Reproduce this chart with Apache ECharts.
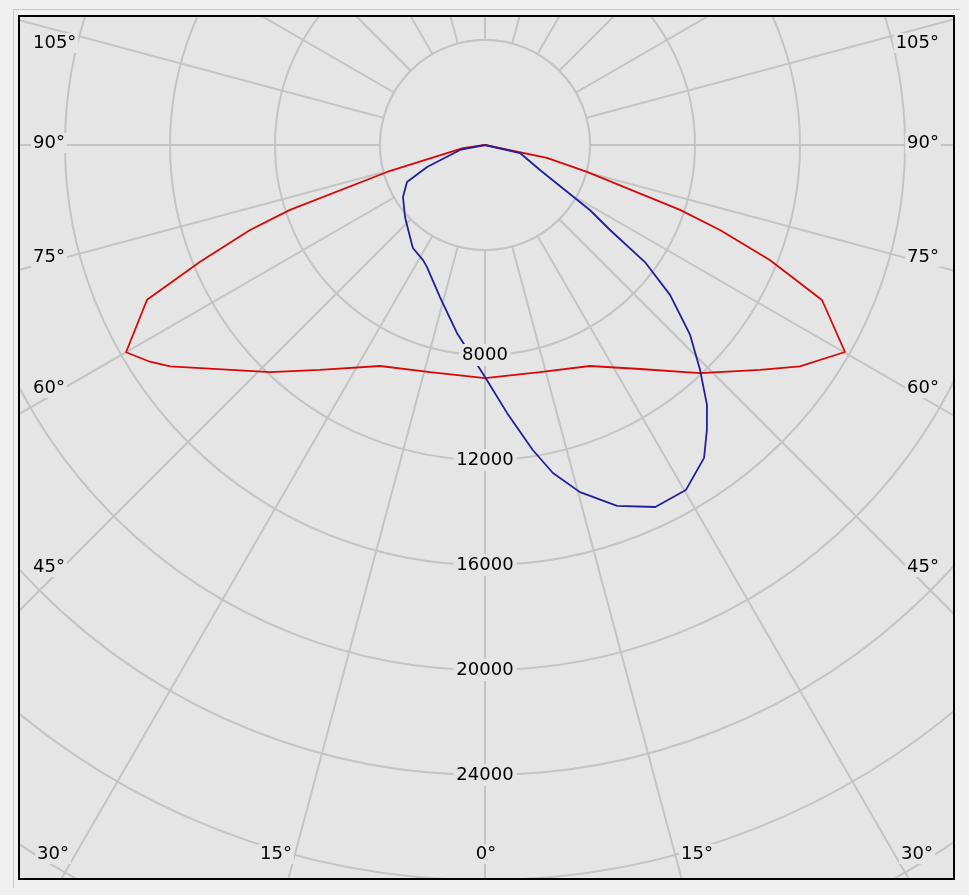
<!DOCTYPE html>
<html><head><meta charset="utf-8">
<script src="https://cdn.jsdelivr.net/npm/echarts@6/dist/echarts.min.js"></script>
<style>html,body{margin:0;padding:0;background:#f0f0f0}#c{width:969px;height:895px}</style>
</head><body><div id="c"></div>
<script>
// gamma angle (deg, negative = left half-plane) and luminous intensity (cd)
const redAngles = [-90, -82.2, -74.6, -71.6, -70.1, -67.7, -65.4, -60.0, -57.1, -54.9, -43.4, -36.3, -25.4, -13.6, 0, 13.6, 25.4, 34.7, 43.3, 50.7, 54.9, 60.1, 65.3, 68.0, 70.1, 71.6, 75.2, 78.2, 90];
const redValues = [0, 850, 3870, 7830, 9520, 11730, 14160, 15790, 15200, 14660, 11910, 10630, 9320, 8900, 8880, 8900, 9320, 10380, 11940, 13530, 14660, 15820, 14130, 11700, 9520, 7830, 4020, 2410, 0];
const blueAngles = [-90, -78.7, -69.2, -64.6, -57.6, -48.0, -39.2, -35.0, -28.3, -25.4, -16.5, -8.5, 0, 4.7, 8.9, 11.7, 15.3, 20.1, 25.2, 30.2, 35.0, 37.9, 40.5, 43.7, 47.2, 51.0, 53.8, 55.8, 58.2, 65.6, 77.1, 90];
const blueValues = [0, 970, 2360, 3290, 3700, 4100, 4520, 4790, 4980, 5150, 6040, 7240, 8840, 10240, 11760, 12760, 13710, 14640, 15240, 15210, 14550, 13760, 13020, 11860, 10650, 9070, 7550, 5760, 4700, 2300, 1370, 0];
const radiusTicks = [8000, 12000, 16000, 20000, 24000];
const leftLabels = ['105°', '90°', '75°', '60°', '45°'];
const rightLabels = ['105°', '90°', '75°', '60°', '45°'];
const bottomLabels = ['30°', '15°', '0°', '15°', '30°'];

const CX = 485, CY = 145, R_OUT = 945, R_MAX = 36000, R_HOLE = 4000;
const PLOT_BG = '#e5e5e5', OUT_BG = '#f0f0f0', GRID = '#c4c4c4';
const FONT = '18px "DejaVu Sans"';

function toData(angles, values) {
  return angles.map((a, i) => [values[i], a < 0 ? a + 360 : a]);
}

const sideY = [43, 143, 257, 388, 567];
const bottomX = [53, 276, 486, 697, 917];
function txt(t, x, y, align) {
  return { type: 'text', z: 50, style: { text: t, x: x, y: y, font: FONT, fill: '#000',
    align: align, verticalAlign: 'middle', textAlign: align, textVerticalAlign: 'middle',
    backgroundColor: PLOT_BG, padding: [1, 2] } };
}
const graphics = [];
// inner hole of the grid (radial lines start at the 4000 cd circle)
graphics.push({ type: 'circle', z: 1, shape: { cx: CX, cy: CY, r: R_OUT * R_HOLE / R_MAX }, style: { fill: PLOT_BG, stroke: GRID, lineWidth: 2 } });
// margins outside frame
graphics.push({ type: 'rect', z: 100, shape: { x: 0, y: 0, width: 969, height: 16 }, style: { fill: OUT_BG } });
graphics.push({ type: 'rect', z: 100, shape: { x: 0, y: 879, width: 969, height: 16 }, style: { fill: OUT_BG } });
graphics.push({ type: 'rect', z: 100, shape: { x: 0, y: 0, width: 19, height: 895 }, style: { fill: OUT_BG } });
graphics.push({ type: 'rect', z: 100, shape: { x: 954, y: 0, width: 15, height: 895 }, style: { fill: OUT_BG } });
graphics.push({ type: 'rect', z: 101, shape: { x: 19, y: 16, width: 935, height: 863 }, style: { fill: null, stroke: '#000', lineWidth: 2 } });
graphics.push({ type: 'polyline', z: 101, shape: { points: [[13.5, 888], [13.5, 9.5], [960, 9.5]] }, style: { fill: null, stroke: '#c8c8c8', lineWidth: 1 } });
leftLabels.forEach((t, i) => graphics.push(txt(t, 31, sideY[i], 'left')));
rightLabels.forEach((t, i) => graphics.push(txt(t, 941, sideY[i], 'right')));
bottomLabels.forEach((t, i) => graphics.push(txt(t, bottomX[i], 854, 'center')));

const chart = echarts.init(document.getElementById('c'), null, { renderer: 'canvas' });
const angleBase = { type: 'value', min: 0, max: 360, interval: 15, startAngle: 270, clockwise: false };
const radiusBase = { type: 'value', min: 0, max: R_MAX, interval: 4000 };
chart.setOption({
  animation: false,
  backgroundColor: PLOT_BG,
  polar: [
    { center: [CX, CY], radius: R_OUT },
    { center: [CX, CY], radius: R_OUT }
  ],
  angleAxis: [
    Object.assign({ polarIndex: 0, z: 0, axisLine: { show: false }, axisTick: { show: false }, axisLabel: { show: false },
      splitLine: { show: true, lineStyle: { color: GRID, width: 2 } } }, angleBase),
    Object.assign({ polarIndex: 1, show: false }, angleBase)
  ],
  radiusAxis: [
    Object.assign({ polarIndex: 0, z: 0, axisLine: { show: false }, axisTick: { show: false }, axisLabel: { show: false },
      splitLine: { show: true, lineStyle: { color: GRID, width: 2 } } }, radiusBase),
    Object.assign({ polarIndex: 1, z: 10, axisLine: { show: false }, axisTick: { show: false }, splitLine: { show: false },
      axisLabel: { show: true, margin: 0, align: 'center', verticalAlign: 'middle', hideOverlap: false,
        showMinLabel: true, showMaxLabel: true,
        formatter: v => radiusTicks.includes(v) ? '{a|' + v + '}' : '',
        rich: { a: { backgroundColor: PLOT_BG, padding: [2, 3], fontSize: 18, fontFamily: 'DejaVu Sans', color: '#000' } } } }, radiusBase)
  ],
  series: [
    { type: 'line', coordinateSystem: 'polar', polarIndex: 0, clip: false, showSymbol: false, symbol: 'none',
      data: toData(redAngles, redValues), lineStyle: { color: '#d80808', width: 1.8 }, z: 2 },
    { type: 'line', coordinateSystem: 'polar', polarIndex: 0, clip: false, showSymbol: false, symbol: 'none',
      data: toData(blueAngles, blueValues), lineStyle: { color: '#20209c', width: 1.8 }, z: 2 }
  ],
  graphic: { elements: graphics }
});
</script></body></html>
